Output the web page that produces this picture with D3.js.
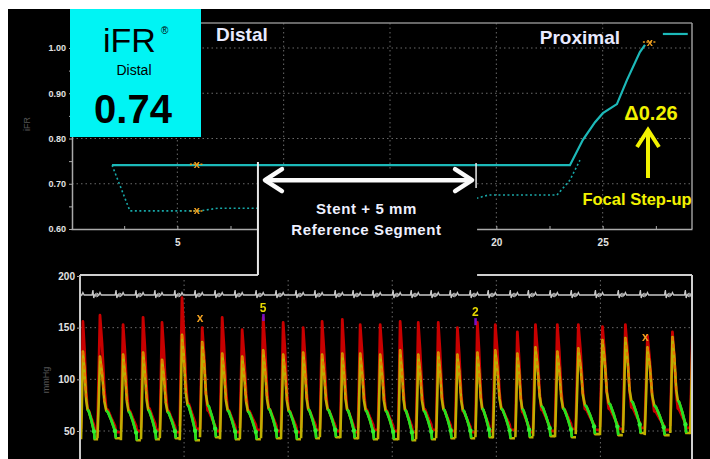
<!DOCTYPE html>
<html><head><meta charset="utf-8">
<script src="https://cdn.jsdelivr.net/npm/d3@7/dist/d3.min.js"></script>
<style>html,body{margin:0;padding:0;background:#fff;overflow:hidden}svg{display:block;font-family:"Liberation Sans",Arial,sans-serif}</style>
</head><body><svg id="c" width="710" height="459"></svg>
<script>
// ---------- Top chart: iFR pullback (position in mm vs iFR) ----------
const ifrSolidPos = [1.93, 23.46, 24.07, 24.64, 25.01, 25.67, 26.14, 26.75, 26.99];
const ifrSolidVal = [0.741, 0.741, 0.797, 0.836, 0.856, 0.876, 0.929, 0.991, 1.007];
const ifrProxPos = [27.83, 29.0];
const ifrProxVal = [1.031, 1.031];
const ifrDotPos = [1.93, 2.77, 6.06, 6.91, 8.79, 14.0, 19.09, 19.61, 22.85, 23.46, 23.93];
const ifrDotVal = [0.741, 0.640, 0.640, 0.646, 0.646, 0.656, 0.668, 0.675, 0.675, 0.708, 0.752];
const topMarkPos = [5.92, 5.92, 27.22];
const topMarkVal = [0.743, 0.640, 1.013];
const topYTicks = [0.60, 0.65, 0.70, 0.75, 0.80, 0.85, 0.90, 0.95, 1.00];
const topYLabels = ["0.60", "", "0.70", "", "0.80", "", "0.90", "", "1.00"];
const topXTicks = [2.5, 5, 7.5, 10, 12.5, 15, 17.5, 20, 22.5, 25, 27.5];
const topXLabels = ["", "5", "", "10", "", "15", "", "20", "", "25", ""];
const topGridY = [0.70, 0.80, 0.90, 1.00];
const topGridX = [5, 10, 15, 20, 25];
const refSegment = [8.79, 19.0];
const refArrowVal = 0.708;

// ---------- Bottom chart: pressure traces (time vs mmHg) ----------
const beatPeakT = [0.14,0.96,2.07,3.03,3.94,4.90,5.87,6.83,7.79,8.80,9.76,10.72,11.63,12.60,13.46,14.42,15.38,16.25,17.21,18.13,19.09,19.95,21.01,21.88,22.93,23.94,25.10,26.20,27.26,28.46,29.42];
const paPeak   = [156,162,153,160,155,179,150,160,148,160,155,150,156,158,153,153,156,155,155,150,155,153,146,153,153,153,151,153,142,146,145];
const paTrough = [50,49,50,51,49,52,50,49,51,50,49,51,50,49,51,50,49,51,50,49,50,51,49,50,52,51,52,53,51,53,52];
const pdPeak   = [127,122,124,126,119,143,136,125,122,128,124,126,124,125,125,124,128,124,126,124,126,128,125,131,127,130,138,140,131,141,135];
const pdTrough = [42,43,41,42,43,41,44,42,42,43,42,43,44,43,42,42,41,42,43,43,44,43,44,45,44,47,46,48,46,48,47];
// one typical beat (fraction of beat, normalised level)
const shapeF  = [0, 0.05, 0.11, 0.20, 0.30, 0.38, 0.45, 0.60, 0.76, 0.80, 1.0];
const paShape = [0.02, 0.45, 1.00, 0.75, 0.36, 0.20, 0.19, 0.12, 0.05, 0.00, 0.00];
const pdShape = [0.00, 0.40, 1.00, 0.80, 0.45, 0.34, 0.32, 0.22, 0.09, 0.00, 0.00];
const botYTicks = [50, 100, 150, 200];
const botGridY = [50, 100, 150];
const botGridX = [5, 10, 15, 20, 25];
const botMarkT = [5.77, 8.80, 18.99, 27.16];
const botMarkV = [159, 169, 165, 141];
const botMarkText = ["x", "5", "2", "x"];
const botMarkColor = ["#f0a020", "#e6d800", "#e6d800", "#f0a020"];

const svg = d3.select("#c");
svg.append("rect").attr("width", 710).attr("height", 459).attr("fill", "#fff");
svg.append("rect").attr("x", 8).attr("y", 9).attr("width", 702).attr("height", 450).attr("fill", "#000");
const defs = svg.append("defs");
defs.append("filter").attr("id", "soft").append("feGaussianBlur").attr("stdDeviation", 0.5);
defs.append("clipPath").attr("id", "clipB").append("rect").attr("x", 81).attr("y", 276).attr("width", 611).attr("height", 190);

const xT = d3.scaleLinear().domain([0, 29.2]).range([71, 692]);
const yT = d3.scaleLinear().domain([0.6, 1.0]).range([229, 48]);
const xB = d3.scaleLinear().domain([0, 29.4]).range([80, 692]);
const yB = d3.scaleLinear().domain([50, 200]).range([431, 276]);

const gridColor = "#6a6a6a";
// ---- top grid
const gT = svg.append("g");
gT.selectAll("line.gy").data(topGridY).join("line")
  .attr("x1", 72).attr("x2", 692).attr("y1", d => yT(d)).attr("y2", d => yT(d))
  .attr("stroke", gridColor).attr("stroke-dasharray", "1.5,3");
gT.selectAll("line.gx").data(topGridX).join("line")
  .attr("x1", d => xT(d)).attr("x2", d => xT(d)).attr("y1", 23).attr("y2", 229)
  .attr("stroke", gridColor).attr("stroke-dasharray", "1.5,3");
gT.append("line").attr("x1", 200).attr("x2", 692).attr("y1", 23).attr("y2", 23).attr("stroke", "#8a8a8a").attr("stroke-width", 1.5);
gT.append("line").attr("x1", 692).attr("x2", 692).attr("y1", 23).attr("y2", 229).attr("stroke", "#9a9a9a").attr("stroke-width", 1.5);

function styleAxis(g, size) {
  g.selectAll("path.domain").attr("stroke", "#aaa").attr("stroke-width", 1.5);
  g.selectAll(".tick line").attr("stroke", "#aaa");
  g.selectAll(".tick text").attr("fill", "#e2e2e2").attr("font-weight", "bold").attr("font-size", size);
}
const axYT = svg.append("g").attr("transform", "translate(72,0)")
  .call(d3.axisLeft(yT).tickValues(topYTicks).tickFormat((d, i) => topYLabels[i]).tickSizeInner(3).tickSizeOuter(0).tickPadding(3));
styleAxis(axYT, 9);
const axXT = svg.append("g").attr("transform", "translate(0,229)")
  .call(d3.axisBottom(xT).tickValues(topXTicks).tickFormat((d, i) => topXLabels[i]).tickSizeInner(-3).tickSizeOuter(0).tickPadding(10));
styleAxis(axXT, 10);

// ---- top data
const lineT = d3.line().x(d => xT(d[0])).y(d => yT(d[1]));
const dataLayerT = svg.append("g").attr("filter", "url(#soft)");
dataLayerT.append("path").datum(ifrDotPos.map((p, i) => [p, ifrDotVal[i]]))
  .attr("d", lineT).attr("fill", "none").attr("stroke", "#18a8a8").attr("stroke-width", 1.6).attr("stroke-dasharray", "2,2.5");
dataLayerT.append("path").datum(ifrSolidPos.map((p, i) => [p, ifrSolidVal[i]]))
  .attr("d", lineT).attr("fill", "none").attr("stroke", "#1fb9b9").attr("stroke-width", 2.2);
dataLayerT.append("path").datum(ifrProxPos.map((p, i) => [p, ifrProxVal[i]]))
  .attr("d", lineT).attr("fill", "none").attr("stroke", "#1fb9b9").attr("stroke-width", 2.2);
topMarkPos.forEach((p, i) => {
  const cx = xT(p), cy = yT(topMarkVal[i]);
  dataLayerT.append("line").attr("x1", cx - 7).attr("x2", cx + 7).attr("y1", cy).attr("y2", cy)
    .attr("stroke", "#e89a18").attr("stroke-width", 1.5).attr("stroke-dasharray", "2,1.5");
  dataLayerT.append("text").attr("x", cx).attr("y", cy + 3.5).attr("text-anchor", "middle")
    .attr("font-size", 11).attr("font-weight", "bold").attr("fill", "#f0a020").text("x");
});

// ---- axis labels
svg.append("text").attr("transform", "translate(30,124) rotate(-90)").attr("text-anchor", "middle")
  .attr("font-size", 9).attr("fill", "#555").text("iFR");
svg.append("text").attr("transform", "translate(49,380) rotate(-90)").attr("text-anchor", "middle")
  .attr("font-size", 9).attr("fill", "#555").text("mmHg");

// ---- bottom chart grid
const gB = svg.append("g");
gB.selectAll("line.gy").data(botGridY).join("line")
  .attr("x1", 81).attr("x2", 692).attr("y1", d => yB(d)).attr("y2", d => yB(d))
  .attr("stroke", gridColor).attr("stroke-dasharray", "1.5,3");
gB.selectAll("line.gx").data(botGridX).join("line")
  .attr("x1", d => xB(d)).attr("x2", d => xB(d)).attr("y1", 280).attr("y2", 459)
  .attr("stroke", gridColor).attr("stroke-dasharray", "1.5,3");

// ECG trace with beat markers
const ecgPts = [[0, 0]];
beatPeakT.forEach(tp => {
  const t = tp - 0.3;
  ecgPts.push([t - 0.08, 0], [t - 0.04, 5], [t, -3], [t + 0.04, 0], [t + 0.25, 0], [t + 0.3, 2.5], [t + 0.36, 0]);
});
ecgPts.push([29.4, 0]);
const ecgY = 295;
const gE = svg.append("g").attr("clip-path", "url(#clipB)").attr("filter", "url(#soft)");
gE.append("path").datum(ecgPts).attr("d", d3.line().x(d => xB(d[0])).y(d => ecgY - d[1]))
  .attr("fill", "none").attr("stroke", "#c8c8c8").attr("stroke-width", 1.3);
gE.selectAll("circle").data(beatPeakT).join("circle")
  .attr("cx", d => xB(d - 0.3) + 3).attr("cy", ecgY).attr("r", 1.8)
  .attr("fill", "none").attr("stroke", "#bbb").attr("stroke-width", 1);

// pressure waves
const lineB = d3.line().x(d => xB(d[0])).y(d => yB(d[1]));
const gW = svg.append("g").attr("clip-path", "url(#clipB)").attr("filter", "url(#soft)");
const paPaths = [], pdPaths = [];
beatPeakT.forEach((tp, i) => {
  const P = i < beatPeakT.length - 1 ? beatPeakT[i + 1] - tp : tp - beatPeakT[i - 1];
  const t0 = tp - 0.11 * P;
  paPaths.push(shapeF.map((f, k) => [t0 + f * P, paTrough[i] + paShape[k] * (paPeak[i] - paTrough[i])]));
  pdPaths.push(shapeF.map((f, k) => [t0 + f * P, pdTrough[i] + pdShape[k] * (pdPeak[i] - pdTrough[i])]));
});
gW.selectAll("path.pa").data(paPaths).join("path").attr("class", "pa")
  .attr("d", lineB).attr("fill", "none").attr("stroke", "#c80000").attr("stroke-width", 2.8).attr("stroke-linejoin", "round");
gW.selectAll("path.pd").data(pdPaths).join("path").attr("class", "pd")
  .attr("d", lineB).attr("fill", "none").attr("stroke", "#bfae00").attr("stroke-width", 2.6).attr("stroke-linejoin", "round");
gW.selectAll("path.pdo").data(pdPaths.map(p => p.slice(2, 5))).join("path").attr("class", "pdo")
  .attr("d", lineB).attr("fill", "none").attr("stroke", "#e47a00").attr("stroke-width", 2.2).attr("stroke-dasharray", "4,3");
gW.selectAll("path.wf").data(pdPaths.map(p => p.slice(5, 10))).join("path").attr("class", "wf")
  .attr("d", lineB).attr("fill", "none").attr("stroke", "#22e022").attr("stroke-width", 2.6).attr("stroke-linejoin", "round");
gW.selectAll("circle.wfd").data(pdPaths.map(p => p[8])).join("circle").attr("class", "wfd")
  .attr("cx", d => xB(d[0])).attr("cy", d => yB(d[1])).attr("r", 2.2).attr("fill", "#30f030");

// bottom markers
botMarkT.forEach((t, i) => {
  const cx = xB(t), cy = yB(botMarkV[i]);
  if (botMarkText[i] !== "x") {
    gW.append("rect").attr("x", cx - 1).attr("y", cy + 6).attr("width", 2.5).attr("height", 7).attr("fill", "#7a10c8");
  }
  gW.append("text").attr("x", cx).attr("y", cy + 4).attr("text-anchor", "middle")
    .attr("font-size", 12).attr("font-weight", "bold").attr("fill", botMarkColor[i]).text(botMarkText[i]);
});

// bottom axis & frame
svg.append("line").attr("x1", 80).attr("x2", 80).attr("y1", 275).attr("y2", 459).attr("stroke", "#c8c8c8").attr("stroke-width", 2);
const axYB = svg.append("g").attr("transform", "translate(80,0)")
  .call(d3.axisLeft(yB).tickValues(botYTicks).tickFormat(d3.format("d")).tickSizeInner(3).tickSizeOuter(0).tickPadding(2));
axYB.select("path.domain").remove();
styleAxis(axYB, 10);
const frameColor = "#cfcfcf";
svg.append("line").attr("x1", 80).attr("x2", xT(refSegment[0])).attr("y1", 275).attr("y2", 275).attr("stroke", frameColor).attr("stroke-width", 2);
svg.append("line").attr("x1", xT(refSegment[1]) + 2).attr("x2", 692).attr("y1", 275).attr("y2", 275).attr("stroke", frameColor).attr("stroke-width", 2);
svg.append("line").attr("x1", 692).attr("x2", 692).attr("y1", 275).attr("y2", 459).attr("stroke", frameColor).attr("stroke-width", 2);

// ---- reference segment annotation (black window)
const rx0 = xT(refSegment[0]), rx1 = xT(refSegment[1]);
svg.append("rect").attr("x", rx0 + 1).attr("y", 169).attr("width", rx1 - rx0 + 1).attr("height", 105).attr("fill", "#000");
svg.append("line").attr("x1", rx0).attr("x2", rx0).attr("y1", 162).attr("y2", 275).attr("stroke", "#e8e8e8").attr("stroke-width", 2);
svg.append("line").attr("x1", rx1 + 1).attr("x2", rx1 + 1).attr("y1", 163).attr("y2", 188).attr("stroke", "#e8e8e8").attr("stroke-width", 1.5);
const ay = yT(refArrowVal);
const ga = svg.append("g").attr("stroke", "#fafafa").attr("stroke-width", 4.5).attr("fill", "none").attr("stroke-linecap", "round").attr("stroke-linejoin", "round");
ga.append("line").attr("x1", rx0 + 8).attr("x2", rx1 - 5).attr("y1", ay).attr("y2", ay);
ga.append("path").attr("d", `M${rx0 + 24},${ay - 11}L${rx0 + 7},${ay}L${rx0 + 24},${ay + 11}`);
ga.append("path").attr("d", `M${rx1 - 20},${ay - 11}L${rx1 - 3},${ay}L${rx1 - 20},${ay + 11}`);
const midX = (rx0 + rx1) / 2;
svg.append("text").attr("x", midX).attr("y", 214).attr("text-anchor", "middle").attr("font-size", 15).attr("font-weight", "bold")
  .attr("letter-spacing", 0.6).attr("fill", "#eef0ff").text("Stent + 5 mm");
svg.append("text").attr("x", midX).attr("y", 235).attr("text-anchor", "middle").attr("font-size", 15).attr("font-weight", "bold")
  .attr("letter-spacing", 0.6).attr("fill", "#eef0ff").text("Reference Segment");

// ---- labels Distal / Proximal
svg.append("text").attr("x", 216).attr("y", 41).attr("font-size", 19).attr("font-weight", "bold").attr("fill", "#e8eaff").text("Distal");
svg.append("text").attr("x", 620).attr("y", 44).attr("text-anchor", "end").attr("font-size", 19).attr("font-weight", "bold").attr("fill", "#e8eaff").text("Proximal");

// ---- focal step-up annotation
const yel = "#f2f200";
svg.append("text").attr("x", 651).attr("y", 120).attr("text-anchor", "middle").attr("font-size", 20).attr("font-weight", "bold").attr("fill", yel).text("Δ0.26");
const gy = svg.append("g").attr("stroke", yel).attr("stroke-width", 4).attr("fill", "none").attr("stroke-linejoin", "miter");
gy.append("line").attr("x1", 648).attr("x2", 648).attr("y1", 178).attr("y2", 130);
gy.append("path").attr("d", "M637,147L648,130L659,147");
svg.append("text").attr("x", 637).attr("y", 205).attr("text-anchor", "middle").attr("font-size", 16.5).attr("font-weight", "bold").attr("fill", yel).text("Focal Step-up");

// ---- iFR badge
svg.append("rect").attr("x", 70).attr("y", 9).attr("width", 131).attr("height", 128).attr("fill", "#00f4f4");
svg.append("text").attr("x", 103).attr("y", 52).attr("font-size", 34).attr("fill", "#000").text("iFR");
svg.append("text").attr("x", 161).attr("y", 34).attr("font-size", 10).attr("fill", "#000").text("®");
svg.append("text").attr("x", 134).attr("y", 75).attr("text-anchor", "middle").attr("font-size", 14).attr("fill", "#000").text("Distal");
svg.append("text").attr("x", 133).attr("y", 123).attr("text-anchor", "middle").attr("font-size", 40).attr("font-weight", "bold").attr("fill", "#000").text("0.74");
</script></body></html>
